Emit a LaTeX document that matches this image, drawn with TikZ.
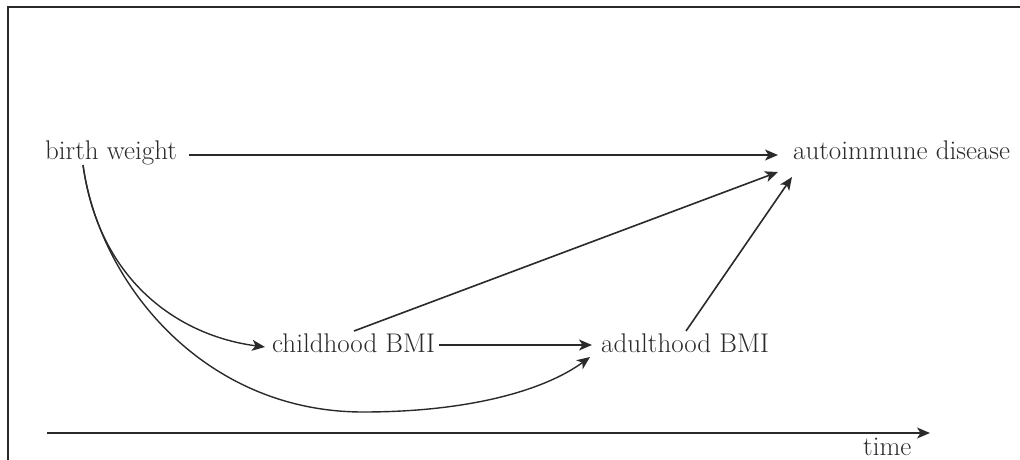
\documentclass[tikz,border=0pt]{standalone}
\usetikzlibrary{arrows.meta}
\definecolor{ink}{HTML}{2A2A2A}
\begin{document}
\begin{tikzpicture}[x=1pt,y=-1pt,
  lbl/.style={inner sep=0pt,anchor=base west,text=ink,font=\fontsize{27}{32}\selectfont},
  arr/.style={draw=ink,line width=1.6pt,-{Stealth[length=13pt,width=11pt,inset=3.5pt]}},
  curv/.style={draw=ink,line width=1.4pt,-{Stealth[length=13pt,width=11pt,inset=3.5pt]}},
  frame/.style={draw=ink,line width=2pt}]
\useasboundingbox (0,0) rectangle (1020,460);
\draw[frame] (7.5,460) -- (7.5,7.5) -- (1020,7.5);
\node[lbl] (bw) at (45,159) {birth weight};
\node[lbl] (ai) at (793,159) {autoimmune disease};
\node[lbl] (ch) at (272,352) {childhood BMI};
\node[lbl] (ad) at (601,352) {adulthood BMI};
\node[lbl] (tm) at (863,455) {time};
\coordinate (t0) at (47,433);
\coordinate (t1) at (930,433);
\draw[arr] (t0) -- (t1);
% straight arrows
\draw[arr] ([xshift=12pt]bw.east |- 0,155) -- ([xshift=-15pt]ai.west |- 0,155);
\draw[arr] ([xshift=4pt]ch.east |- 0,345) -- ([xshift=-9pt]ad.west |- 0,345);
\draw[arr] ([xshift=82pt]ch.west |- 0,331) -- ([xshift=-15pt]ai.west |- 0,172);
\draw[arr] ([xshift=85pt]ad.west |- 0,331) -- ([xshift=-1pt]ai.west |- 0,177);
% curved arrows
\coordinate (bws) at ([xshift=38pt]bw.west |- 0,165);
\draw[curv] (bws) .. controls (99,282) and (180,336) .. ([xshift=-7pt]ch.west |- 0,347);
\draw[curv] (bws) .. controls (100,285) and (205,412) .. (363,412)
  .. controls (470,412) and (545,390) .. ([xshift=-11pt]ad.west |- 0,357);
\end{tikzpicture}
\end{document}
